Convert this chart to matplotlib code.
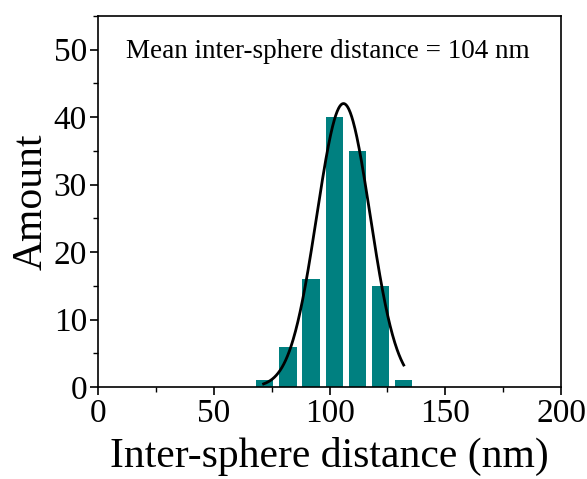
import numpy as np
import matplotlib
matplotlib.use("Agg")
import matplotlib.pyplot as plt
from matplotlib.ticker import MultipleLocator

# histogram bins (bin centres, nm) and counts
bin_centers = [72, 82, 92, 102, 112, 122, 132]
counts = [1, 6, 16, 40, 35, 15, 1]
bar_width = 7.5

# Gaussian fit parameters
fit_center = 106.0
fit_sigma = 11.5
fit_amp = 42.0
fit_range = (71.5, 132.0)

plt.rcParams['font.family'] = ['Liberation Serif', 'DejaVu Serif']

fig = plt.figure(figsize=(5.87, 4.79), dpi=100)
ax = fig.add_axes([0.167, 0.192, 0.789, 0.775])

ax.bar(bin_centers, counts, width=bar_width, color='#008080', edgecolor='none')

xf = np.linspace(fit_range[0], fit_range[1], 300)
yf = fit_amp * np.exp(-(xf - fit_center) ** 2 / (2 * fit_sigma ** 2))
ax.plot(xf, yf, color='black', lw=2)

ax.set_xlim(0, 200)
ax.set_ylim(0, 55)
ax.xaxis.set_major_locator(MultipleLocator(50))
ax.xaxis.set_minor_locator(MultipleLocator(25))
ax.yaxis.set_major_locator(MultipleLocator(10))
ax.yaxis.set_minor_locator(MultipleLocator(5))
ax.tick_params(which='major', length=6, width=1.2, labelsize=24, direction='out', pad=2)
ax.tick_params(which='minor', length=3.5, width=1.0, direction='out')
for s in ax.spines.values():
    s.set_linewidth(1.2)

ax.set_xlabel('Inter-sphere distance (nm)', fontsize=30, labelpad=6)
ax.set_ylabel('Amount', fontsize=30, labelpad=2)
ax.text(0.497, 0.903, 'Mean inter-sphere distance = 104 nm', transform=ax.transAxes,
        ha='center', va='center', fontsize=19.5)

fig.savefig('out.png', dpi=100)
